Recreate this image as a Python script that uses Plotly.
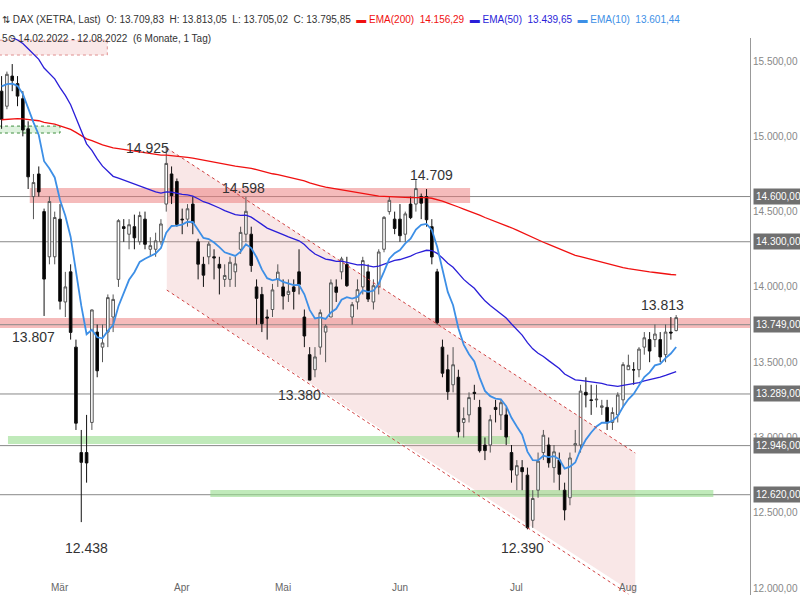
import plotly.graph_objects as go

dates = ["14.02","15.02","16.02","17.02","18.02","21.02","22.02","23.02","24.02","25.02","28.02",
"01.03","02.03","03.03","04.03","07.03","08.03","09.03","10.03","11.03","14.03","15.03","16.03","17.03","18.03","21.03","22.03","23.03","24.03","25.03","28.03","29.03","30.03","31.03",
"01.04","04.04","05.04","06.04","07.04","08.04","11.04","12.04","13.04","14.04","19.04","20.04","21.04","22.04","25.04","26.04","27.04","28.04","29.04",
"02.05","03.05","04.05","05.05","06.05","09.05","10.05","11.05","12.05","13.05","16.05","17.05","18.05","19.05","20.05","23.05","24.05","25.05","26.05","27.05","30.05","31.05",
"01.06","02.06","03.06","06.06","07.06","08.06","09.06","10.06","13.06","14.06","15.06","16.06","17.06","20.06","21.06","22.06","23.06","24.06","27.06","28.06","29.06","30.06",
"01.07","04.07","05.07","06.07","07.07","08.07","11.07","12.07","13.07","14.07","15.07","18.07","19.07","20.07","21.07","22.07","25.07","26.07","27.07","28.07","29.07",
"01.08","02.08","03.08","04.08","05.08","08.08","09.08","10.08","11.08","12.08"]

opens = [15300,15200,15400,15350,15250,15050,14600,14750,14500,14200,14200,
14450,13900,14100,13600,12900,12900,13100,13700,13600,13700,13800,14050,14400,14350,14400,14300,14450,14250,14250,14300,14550,14750,14700,
14450,14450,14550,14300,14150,14200,14200,14150,14050,14050,14100,14250,14350,14350,14000,13950,13800,13850,14050,
14000,13950,14000,14100,13800,13550,13450,13600,13700,13800,14000,14100,14150,13800,13900,14000,14100,13900,14000,14250,14500,14450,
14450,14350,14550,14550,14600,14600,14400,14100,13600,13450,13350,13400,13100,13150,13300,13200,12950,12950,13200,13150,13150,12900,
12750,12800,12750,12450,12650,12900,12950,12800,12850,12650,12600,12950,12950,13300,13250,13250,13200,13200,13100,13150,13250,
13450,13450,13450,13600,13650,13650,13650,13550,13700,13710]
highs = [15400,15430,15480,15400,15300,15100,14750,14800,14520,14600,14500,
14550,14100,14150,13650,13050,13150,13850,13750,13750,13950,13950,14450,14450,14450,14480,14500,14500,14330,14360,14450,14925,14800,14720,
14520,14550,14600,14320,14200,14300,14250,14200,14150,14200,14200,14400,14598,14400,14050,14000,13850,14020,14150,
14050,14050,14050,14250,13850,13600,13600,13850,13750,14050,14050,14200,14200,13900,14050,14200,14150,14050,14250,14470,14600,14500,
14550,14500,14600,14709,14620,14650,14450,14120,13650,13550,13600,13450,13200,13300,13350,13250,13000,13150,13250,13250,13200,12950,
12850,12850,12800,12650,12900,13050,13000,12950,12900,12700,12900,13050,13350,13400,13350,13350,13250,13250,13200,13300,13500,
13550,13500,13600,13700,13700,13750,13700,13750,13800,13813]
lows = [15050,15180,15300,15200,15000,14650,14450,14600,13807,14150,14150,
13850,13800,13650,13050,12438,12700,13050,13400,13500,13600,13700,14000,14300,14250,14250,14280,14250,14200,14200,14280,14500,14550,14400,
14350,14400,14350,14050,14000,14150,14050,13950,14000,14000,14000,14220,14300,14100,13750,13700,13650,13800,14000,
13850,13900,13850,13950,13600,13380,13400,13550,13500,13800,13900,14050,14000,13750,13850,13950,13900,13850,13950,14230,14480,14350,
14300,14300,14450,14500,14450,14400,14150,13750,13400,13250,13300,13000,13000,13100,13250,12900,12850,12900,13100,13050,12950,12700,
12650,12650,12390,12400,12600,12850,12800,12700,12650,12450,12550,12900,12900,13200,13150,13200,13150,13050,13050,13100,13200,
13450,13350,13400,13550,13500,13600,13500,13500,13650,13705]
closes = [15113,15412,15370,15267,15042,14731,14693,14631,14052,14567,14461,
13905,14000,13698,13095,12835,12831,13847,13443,13628,13929,13917,14440,14388,14413,14326,14474,14283,14274,14306,14418,14820,14606,14415,
14446,14519,14424,14151,14078,14284,14193,14125,14076,14164,14153,14362,14502,14142,13924,13756,13793,13980,14098,
13939,13971,13970,14016,13674,13381,13535,13829,13739,14027,13964,14186,14008,13882,13982,14175,13919,14008,14232,14462,14575,14388,
14340,14485,14460,14653,14556,14446,14199,13762,13427,13304,13483,13038,13126,13265,13292,12912,12913,13118,13186,13231,13003,12784,
12813,12773,12401,12595,12843,13015,12832,12905,12756,12519,12864,12959,13308,13282,13246,13254,13210,13097,13166,13282,13484,
13479,13449,13587,13662,13574,13687,13535,13700,13694,13796]

ema_seeds = {"EMA(200)": 15110, "EMA(50)": 15700, "EMA(10)": 15380}
ema_periods = {"EMA(200)": 200, "EMA(50)": 50, "EMA(10)": 10}
ema_colors = {"EMA(200)": "#f01010", "EMA(50)": "#2a1ed8", "EMA(10)": "#3d8fe6"}

level_values = [14600, 14300, 13749, 13289, 12946, 12620]
level_texts = ["14.600,00", "14.300,00", "13.749,00", "13.289,00", "12.946,00", "12.620,00"]
tick_vals = [15500, 15000, 14500, 14000, 13500, 13000, 12500, 12000]
tick_texts = ["15.500,00", "15.000,00", "14.500,00", "14.000,00", "13.500,00", "13.000,00", "12.500,00", "12.000,00"]
month_idx = [11, 34, 53, 75, 97, 118]
month_names = ["Mär", "Apr", "Mai", "Jun", "Jul", "Aug"]
peak_labels = [(27.5, 14925, "14.925"), (45.5, 14660, "14.598"), (81, 14740, "14.709"), (6, 13670, "13.807"),
               (56, 13280, "13.380"), (16, 12265, "12.438"), (98, 12265, "12.390"), (124.5, 13880, "13.813")]

x = list(range(len(dates)))
fig = go.Figure()

fig.add_shape(type="path", path="M 31.1 14922 L 119.3 12897 L 119.3 11960 L 31.1 13979 Z",
              fillcolor="rgba(230,160,160,0.25)", line_width=0, layer="below")
fig.add_shape(type="line", x0=31.1, y0=14922, x1=119.3, y1=12897, line=dict(color="#d04040", width=1, dash="dot"))
fig.add_shape(type="line", x0=31.1, y0=13979, x1=118, y1=11960, line=dict(color="#d04040", width=1, dash="dot"))
fig.add_shape(type="rect", x0=5.3, x1=88.2, y0=14557, y1=14657, fillcolor="rgba(235,120,120,0.5)", line_width=0, layer="below")
fig.add_shape(type="rect", xref="paper", x0=0, x1=1, y0=13727, y1=13793, fillcolor="rgba(235,120,120,0.5)", line_width=0, layer="below")
fig.add_shape(type="rect", x0=1.2, x1=95.7, y0=12957, y1=13010, fillcolor="rgba(150,220,140,0.6)", line_width=0, layer="below")
fig.add_shape(type="rect", x0=39.3, x1=134, y0=12605, y1=12651, fillcolor="rgba(150,220,140,0.6)", line_width=0, layer="below")
fig.add_shape(type="rect", x0=-0.5, x1=19.9, y0=15540, y1=15639, fillcolor="rgba(240,190,190,0.35)",
              line=dict(color="#e09090", width=1, dash="dot"), layer="below")
fig.add_shape(type="rect", x0=-0.5, x1=11, y0=15022, y1=15068, fillcolor="rgba(190,230,190,0.5)",
              line=dict(color="#409040", width=1, dash="dot"), layer="below")
for v in level_values:
    fig.add_shape(type="line", xref="paper", x0=0, x1=1, y0=v, y1=v, line=dict(color="#888", width=1), layer="below")

for name in ["EMA(200)", "EMA(50)", "EMA(10)"]:
    a = 2 / (ema_periods[name] + 1)
    e = ema_seeds[name]
    vals = []
    for c in closes:
        e = e + a * (c - e)
        vals.append(e)
    fig.add_trace(go.Scatter(x=x, y=vals, mode="lines", line=dict(color=ema_colors[name], width=1.3 if name != "EMA(10)" else 1.8), hoverinfo="skip"))

fig.add_trace(go.Candlestick(x=x, open=opens, high=highs, low=lows, close=closes, whiskerwidth=0,
    increasing=dict(fillcolor="white", line=dict(color="#555", width=1)),
    decreasing=dict(fillcolor="black", line=dict(color="#111", width=1))))

for px, py, t in peak_labels:
    fig.add_annotation(x=px, y=py, text=t, showarrow=False, font=dict(size=14, color="#333"))
for i, m in zip(month_idx, month_names):
    fig.add_annotation(x=i, y=0, yref="paper", yanchor="bottom", text=m, showarrow=False, font=dict(size=10, color="#666"))
for v, t in zip(level_values, level_texts):
    fig.add_annotation(xref="paper", x=1.004, y=v, xanchor="left", text=t, showarrow=False, bgcolor="#707070",
                       font=dict(size=10, color="white"), borderpad=2)

fig.add_annotation(xref="paper", yref="paper", x=0, y=1.047, xanchor="left", showarrow=False,
    text="⇅ DAX (XETRA, Last)  O: 13.709,83  H: 13.813,05  L: 13.705,02  C: 13.795,85  "
         "<span style='color:#f01010'>▬ EMA(200)  14.156,29</span>  <span style='color:#2a1ed8'>▬ EMA(50)  13.439,65</span>  "
         "<span style='color:#3d8fe6'>▬ EMA(10)  13.601,44</span>", font=dict(size=10, color="#333"))
fig.add_annotation(xref="paper", yref="paper", x=0, y=1.013, xanchor="left", showarrow=False,
    text="5⏲ 14.02.2022 - 12.08.2022  (6 Monate, 1 Tag)", font=dict(size=10, color="#333"))

fig.update_layout(width=800, height=600, margin=dict(l=0, r=50, t=38, b=5), plot_bgcolor="white", paper_bgcolor="white",
                  showlegend=False, font=dict(family="Liberation Sans"))
fig.update_xaxes(range=[-0.3, 140.9], showticklabels=False, showgrid=False, rangeslider_visible=False, zeroline=False)
fig.update_yaxes(range=[11954, 15653], side="right", tickvals=tick_vals, ticktext=tick_texts, showgrid=False,
                 tickfont=dict(size=10, color="#888"), showline=True, linecolor="#999", ticks="", zeroline=False)
fig.write_html("out.html", config={"displayModeBar": False},
               post_script="document.body.style.margin='0';document.body.style.overflow='hidden';")
